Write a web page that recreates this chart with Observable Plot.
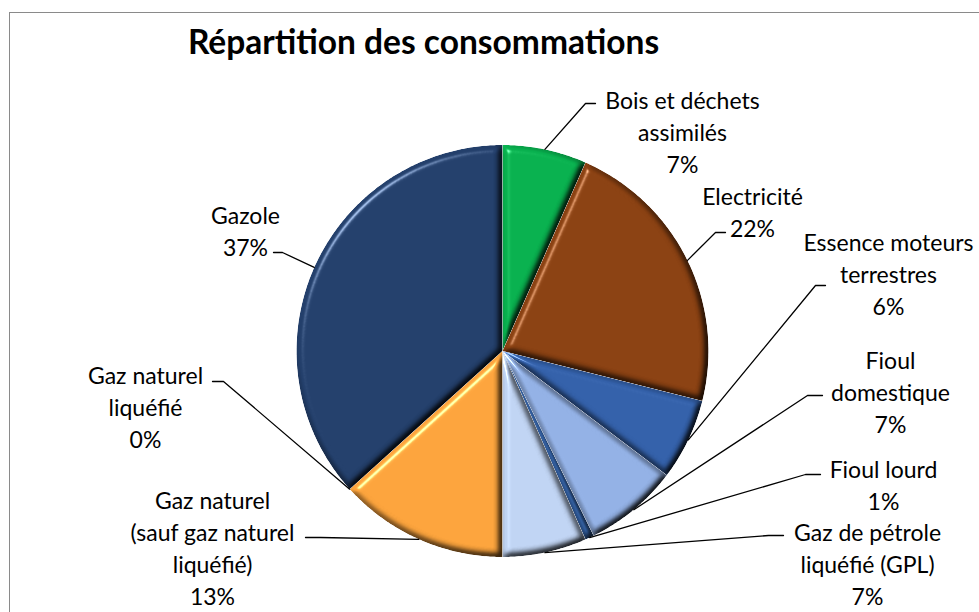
<!DOCTYPE html>
<html>
<head>
<meta charset="utf-8">
<script src="https://cdn.jsdelivr.net/npm/d3@7"></script>
<script src="https://cdn.jsdelivr.net/npm/@observablehq/plot@0.6"></script>
<style>
  html, body { margin: 0; padding: 0; background: #fff; overflow: hidden; }
  #wrap { position: relative; width: 979px; height: 612px; }
  #border { position: absolute; left: 9px; top: 12px; width: 1200px; height: 900px;
            border: 1.5px solid #8a8a8a; pointer-events: none; box-sizing: border-box; }
  #chart { position: absolute; left: 0; top: 0; }
</style>
</head>
<body>
<div id="wrap"><div id="chart"></div><div id="border"></div></div>
<script>
// ---- data ----
const title = "Répartition des consommations";
const categories = [
  "Bois et déchets assimilés", "Electricité", "Essence moteurs terrestres",
  "Fioul domestique", "Fioul lourd", "Gaz de pétrole liquéfié (GPL)",
  "Gaz naturel (sauf gaz naturel liquéfié)", "Gaz naturel liquéfié", "Gazole"
];
const shares = [6.6, 22.3, 6.4, 7.4, 0.7, 6.6, 13.3, 0, 36.7];
const labelNames = [
  "Bois et déchets\nassimilés", "Electricité", "Essence moteurs\nterrestres",
  "Fioul\ndomestique", "Fioul lourd", "Gaz de pétrole\nliquéfié (GPL)",
  "Gaz naturel\n(sauf gaz naturel\nliquéfié)", "Gaz naturel\nliquéfié", "Gazole"
];
const colors = ["#08b04e", "#8a4112", "#3360a9", "#92b0e4", "#2e5896", "#bfd3f2", "#fba33c", "#c55a11", "#233f6b"];

// ---- layout ----
const W = 979, H = 612;
const cx = 502, cy = 350.5, R = 206;
const labelX = [682, 752, 888, 890, 883, 867, 212, 145, 245];
const labelY = [130, 210.5, 272, 390, 483.5, 562, 546, 405, 229];
const leaderX = [595, 725, 825, 822, 820, 783, 305, 212, 273];
const leaderY = [103, 232, 285, 395, 474, 535, 537, 381, 252];
const elbowX  = [585, 715, 815, 807, 805, 768, 320, 223, 282];

// ---- build geometry from data ----
const rows = categories.map((name, i) => ({name, value: shares[i], i}));
const arcs = d3.pie().sort(null).value(d => d.value)(rows);
const px = (a, r) => cx + r * Math.sin(a);
const py = (a, r) => cy - r * Math.cos(a);

const slicePts = [];
arcs.forEach(a => {
  if (a.endAngle - a.startAngle <= 0) return;
  const name = a.data.name;
  slicePts.push({name, x: cx, y: cy});
  const n = Math.max(2, Math.ceil((a.endAngle - a.startAngle) / 0.01));
  for (let k = 0; k <= n; k++) {
    const t = a.startAngle + (a.endAngle - a.startAngle) * k / n;
    slicePts.push({name, x: px(t, R), y: py(t, R)});
  }
  slicePts.push({name, x: cx, y: cy});
});

const leaderPts = [];
arcs.forEach(a => {
  const i = a.data.i;
  const mid = (a.startAngle + a.endAngle) / 2;
  leaderPts.push({name: a.data.name, x: leaderX[i], y: leaderY[i]});
  leaderPts.push({name: a.data.name, x: elbowX[i], y: leaderY[i]});
  leaderPts.push({name: a.data.name, x: px(mid, R), y: py(mid, R)});
});

const labels = rows.map((d, i) => ({
  x: labelX[i], y: labelY[i],
  text: labelNames[i] + "\n" + Math.round(d.value) + "%"
}));

const chart = Plot.plot({
  width: W, height: H, margin: 0,
  x: {domain: [0, W], range: [0, W], axis: null},
  y: {domain: [0, H], range: [0, H], axis: null},
  color: {domain: categories, range: colors},
  style: {fontFamily: "Lato, 'Open Sans', sans-serif", background: "transparent", overflow: "visible"},
  marks: [
    Plot.line(slicePts, {x: "x", y: "y", z: "name", fill: "name", stroke: "none"}),
    Plot.line(leaderPts, {x: "x", y: "y", z: "name", stroke: "#000", strokeWidth: 1.3}),
    Plot.text(labels, {x: "x", y: "y", text: "text", fontSize: 23, lineHeight: 1.4,
      lineAnchor: "middle", textAnchor: "middle", fill: "#000"}),
    Plot.text([title], {x: () => 423, y: () => 43, text: d => d, fontSize: 33.5, fontWeight: "bold",
      lineAnchor: "middle", textAnchor: "middle", fill: "#000"})
  ]
});

// bevel lighting filter for the slices
const ns = "http://www.w3.org/2000/svg";
const defs = document.createElementNS(ns, "defs");
defs.innerHTML = `
<filter id="bevel" x="-5%" y="-5%" width="110%" height="110%" color-interpolation-filters="sRGB">
  <feGaussianBlur in="SourceAlpha" stdDeviation="3.5" result="blur"/>
  <feDiffuseLighting in="blur" surfaceScale="6" diffuseConstant="1.155" lighting-color="#ffffff" result="diff">
    <feDistantLight azimuth="225" elevation="60"/>
  </feDiffuseLighting>
  <feComposite in="SourceGraphic" in2="diff" operator="arithmetic" k1="1" k2="0" k3="0" k4="0" result="shaded"/>
  <feSpecularLighting in="blur" surfaceScale="6" specularConstant="0.5" specularExponent="45" lighting-color="#ffffff" result="spec">
    <feDistantLight azimuth="225" elevation="40"/>
  </feSpecularLighting>
  <feComposite in="spec" in2="SourceAlpha" operator="in" result="specIn"/>
  <feComposite in="shaded" in2="specIn" operator="arithmetic" k1="0" k2="1" k3="1" k4="0" result="lit"/>
  <feComposite in="lit" in2="SourceAlpha" operator="in"/>
</filter>`;
chart.insertBefore(defs, chart.firstChild);
const lineGroups = chart.querySelectorAll('g[aria-label="line"]');
if (lineGroups.length) {
  lineGroups[0].querySelectorAll("path").forEach(p => p.setAttribute("filter", "url(#bevel)"));
}
document.getElementById("chart").appendChild(chart);
</script>
</body>
</html>
